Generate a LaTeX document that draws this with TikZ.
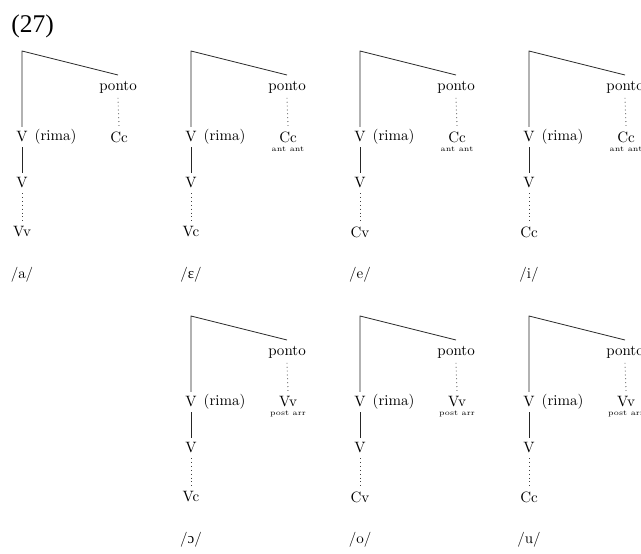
\documentclass[tikz,border=0pt]{standalone}
\usepackage{fontspec}
\newfontfamily\timesf{Liberation Serif}
\newfontfamily\ipaf{Liberation Serif}
\usetikzlibrary{calc}
\tikzset{
  lab/.style={inner sep=3pt, font=\normalsize},
  sub/.style={inner sep=0pt, font=\tiny},
  br/.style={line width=0.5pt, black!85},
  dl/.style={line width=0.6pt, black!75, dash pattern=on 0.5pt off 2.1pt},
}
\newcommand\mytree[7]{%
  % #1 prefix, #2 x, #3 y, #4 right label, #5 sub label, #6 bottom, #7 phoneme
  \coordinate (#1c) at (#2,#3);
  \coordinate (#1e) at ($(#2,#3)+(96,24)$);
  \node[lab] (#1p) at ($(#2,#3)+(96,36)$) {ponto};
  \node[lab] (#1r) at ($(#2,#3)+(97,86)$) {#4};
  \node[sub] (#1s) at ($(#2,#3)+(97,98)$) {#5};
  \node[lab] (#1v) at ($(#2,#3)+(0,86)$) {V};
  \node[lab, anchor=west, inner sep=0pt] (#1m) at ($(#1v.east)+(2,0)$) {(rima)};
  \node[lab] (#1w) at ($(#2,#3)+(0,132)$) {V};
  \node[lab] (#1b) at ($(#2,#3)+(0,181)$) {#6};
  \node[lab] (#1f) at ($(#2,#3)+(0,224)$) {#7};
  \draw[br] (#1v.north) -- (#1c) -- (#1e);
  \draw[dl] (#1p.south) -- (#1r.north);
  \draw[br] (#1v.south) -- (#1w.north);
  \draw[dl] (#1w.south) -- (#1b.north);
}
\begin{document}
\begin{tikzpicture}[x=0.667pt, y=-0.667pt]
\useasboundingbox (0,0) rectangle (641,553);
\node[anchor=west, inner sep=0pt, font=\timesf\fontsize{17}{20}\selectfont] (num) at (11,26) {(27)};
\mytree{a}{22}{51}{Cc}{}{Vv}{/a/}
\mytree{b}{191}{51}{Cc}{ant ant}{Vc}{/{\ipaf ɛ}/}
\mytree{c}{360}{51}{Cc}{ant ant}{Cv}{/e/}
\mytree{d}{529}{51}{Cc}{ant ant}{Cc}{/i/}
\mytree{e}{191}{316}{Vv}{post arr}{Vc}{/{\ipaf ɔ}/}
\mytree{f}{360}{316}{Vv}{post arr}{Cv}{/o/}
\mytree{g}{529}{316}{Vv}{post arr}{Cc}{/u/}
\end{tikzpicture}
\end{document}
